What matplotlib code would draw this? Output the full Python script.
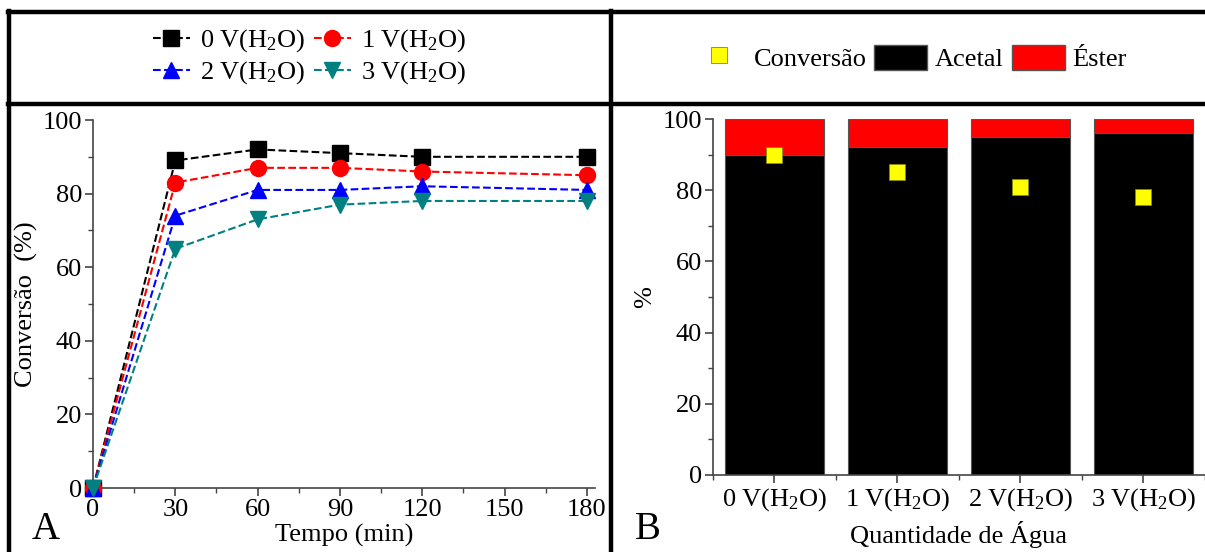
import numpy as np
import matplotlib
matplotlib.use("Agg")
import matplotlib.pyplot as plt
from matplotlib.lines import Line2D
from matplotlib.patches import Patch
from matplotlib.ticker import MultipleLocator

plt.rcParams['font.family'] = ['Liberation Serif', 'DejaVu Serif']
plt.rcParams['mathtext.fontset'] = 'custom'
plt.rcParams['mathtext.rm'] = 'Liberation Serif'
plt.rcParams['mathtext.it'] = 'Liberation Serif:italic'

# panel A data
tempo = [0, 30, 60, 90, 120, 180]
conv_0v = [0, 89, 92, 91, 90, 90]
conv_1v = [0, 83, 87, 87, 86, 85]
conv_2v = [0, 74, 81, 81, 82, 81]
conv_3v = [0, 65, 73, 77, 78, 78]
serie_labels = [r'0 V(H$_{\mathregular{2}}$O)', r'1 V(H$_{\mathregular{2}}$O)',
                r'2 V(H$_{\mathregular{2}}$O)', r'3 V(H$_{\mathregular{2}}$O)']

# panel B data
agua = [r'0 V(H$_{\mathregular{2}}$O)', r'1 V(H$_{\mathregular{2}}$O)',
        r'2 V(H$_{\mathregular{2}}$O)', r'3 V(H$_{\mathregular{2}}$O)']
acetal = [90, 92, 95, 96]
ester = [10, 8, 5, 4]
conversao = [90, 85, 81, 78]

fs = 19
fig = plt.figure(figsize=(12.05, 5.52), dpi=100)

# ---- panel A
ax1 = fig.add_axes([0.0772, 0.1159, 0.4166, 0.6667])
cores = ['black', 'red', 'blue', '#008080']
marcas = ['s', 'o', '^', 'v']
series = [conv_0v, conv_1v, conv_2v, conv_3v]
handles = []
for y, c, m, lab in zip(series, cores, marcas, serie_labels):
    h, = ax1.plot(tempo, y, ls='--', color=c, marker=m, ms=11.5, lw=1.5,
                  label=lab, clip_on=False, zorder=3)
    handles.append(h)
ax1.set_xlim(0, 183)
ax1.set_ylim(0, 100)
ax1.xaxis.set_major_locator(MultipleLocator(30))
ax1.xaxis.set_minor_locator(MultipleLocator(15))
ax1.yaxis.set_major_locator(MultipleLocator(20))
ax1.yaxis.set_minor_locator(MultipleLocator(10))
ax1.set_xlabel('Tempo (min)', fontsize=fs, labelpad=2)
ax1.set_ylabel('Conversão  (%)', fontsize=fs)
ax1.yaxis.set_label_coords(-0.11, 0.5)

# ---- panel B
ax2 = fig.add_axes([0.5917, 0.1395, 0.4083, 0.6449])
x = np.arange(len(agua))
ax2.bar(x, acetal, width=0.8, color='black', edgecolor='#555555', lw=0.8)
ax2.bar(x, ester, width=0.8, bottom=acetal, color='red', edgecolor='#555555', lw=0.8)
ax2.plot(x, conversao, ls='none', marker='s', ms=11, color='yellow',
         mec='#888800', mew=0.6, zorder=3)
ax2.set_xlim(-0.5, 3.5)
ax2.set_ylim(0, 100)
ax2.set_xticks(x)
ax2.set_xticklabels(agua)
ax2.xaxis.set_minor_locator(MultipleLocator(0.5))
ax2.yaxis.set_major_locator(MultipleLocator(20))
ax2.yaxis.set_minor_locator(MultipleLocator(10))
ax2.set_xlabel('Quantidade de Água', fontsize=fs, labelpad=6)
ax2.set_ylabel(r'$\mathit{\%}$', fontsize=fs, labelpad=4)

for ax in (ax1, ax2):
    for s in ('top', 'right'):
        ax.spines[s].set_visible(False)
    for s in ('left', 'bottom'):
        ax.spines[s].set_color('#444444')
        ax.spines[s].set_linewidth(1.2)
    ax.tick_params(which='both', direction='out', color='#444444', labelsize=fs, pad=2)
    ax.tick_params(which='major', length=6, width=1.2)
    ax.tick_params(which='minor', length=3.5, width=1.0)

# legends (column-major fill -> reorder so rows read 0,1 / 2,3)
order = [0, 2, 1, 3]
fig.legend(handles=[handles[i] for i in order], loc='center',
           bbox_to_anchor=(0.257, 0.897), ncol=2,
           frameon=False, fontsize=fs, handlelength=1.4, handletextpad=0.4,
           columnspacing=0.3, labelspacing=0.2, borderpad=0)

h_b = [Line2D([], [], ls='none', marker='s', ms=11, color='yellow', mec='#888800', mew=0.6),
       Patch(facecolor='black', edgecolor='#555555'),
       Patch(facecolor='red', edgecolor='#555555')]
fig.legend(handles=h_b, labels=['Conversão', 'Acetal', 'Éster'], loc='center',
           bbox_to_anchor=(0.755, 0.895), ncol=3, frameon=False, fontsize=fs,
           handlelength=2.0, handleheight=1.1, handletextpad=0.3,
           columnspacing=0.3, borderpad=0)

# panel letters
fig.text(0.026, 0.008, 'A', fontsize=28, va='bottom')
fig.text(0.527, 0.008, 'B', fontsize=28, va='bottom')

# table-like frame
lw = 3.2
fig.add_artist(Line2D([0.0070, 1.0], [0.978, 0.978], color='black', lw=lw))
fig.add_artist(Line2D([0.0070, 1.0], [0.812, 0.812], color='black', lw=lw))
fig.add_artist(Line2D([0.0075, 0.0075], [0.0, 0.98], color='black', lw=lw))
fig.add_artist(Line2D([0.507, 0.507], [0.0, 0.98], color='black', lw=lw))

fig.savefig('out.png', dpi=100)
